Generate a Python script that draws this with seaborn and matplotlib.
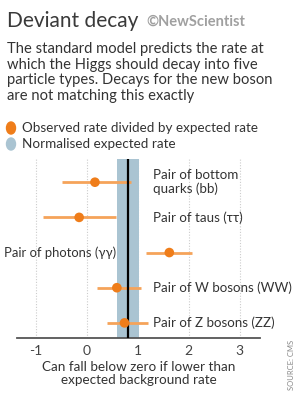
import matplotlib
matplotlib.use("Agg")
import matplotlib.pyplot as plt
import seaborn as sns
import pandas as pd
import numpy as np

# ---- data ----
categories = ["Pair of bottom\nquarks (bb)", "Pair of taus (ττ)", "Pair of photons (γγ)",
              "Pair of W bosons (WW)", "Pair of Z bosons (ZZ)"]
observed = [0.16, -0.15, 1.62, 0.59, 0.74]
err_low = [-0.48, -0.85, 1.16, 0.20, 0.39]
err_high = [0.86, 0.57, 2.06, 1.06, 1.20]
expected_value = 0.80
expected_band = [0.59, 1.02]
xticks = [-1, 0, 1, 2, 3]

title = "Deviant decay"
brand = "©NewScientist"
subtitle = ("The standard model predicts the rate at\nwhich the Higgs should decay into five\n"
            "particle types. Decays for the new boson\nare not matching this exactly")
legend_labels = ["Observed rate divided by expected rate", "Normalised expected rate"]
xlabel = "Can fall below zero if lower than\nexpected background rate"
source = "SOURCE: CMS"

df = pd.DataFrame({"cat": categories, "obs": observed, "lo": err_low, "hi": err_high,
                   "pos": np.arange(len(categories))})

ORANGE = "#ef7d1a"
ORANGE_L = "#f5a35a"
BLUE = "#aac4d2"
TXT = "#333333"

sns.set_style("white")
plt.rcParams["font.family"] = ["Lato", "DejaVu Sans"]

W, H = 299, 400
fig = plt.figure(figsize=(W / 100, H / 100), dpi=100)
fig.patch.set_facecolor("white")

def px(x, y):
    return x / W, 1 - y / H

ax = fig.add_axes([17 / W, 1 - 338 / H, 243 / W, (338 - 159) / H])
ax.set_xlim(-1.37, 3.4)
ax.set_ylim(4.43, -0.66)

for t in xticks:
    ax.axvline(t, color="#cccccc", lw=0.8, ls=(0, (1, 1.5)), zorder=0)
ax.axvspan(expected_band[0], expected_band[1], color=BLUE, zorder=1, lw=0)
ax.hlines(df["pos"], df["lo"], df["hi"], color=ORANGE_L, lw=2, zorder=2)
ax.axvline(expected_value, color="black", lw=1.6, zorder=3)
sns.scatterplot(data=df, x="obs", y="pos", color=ORANGE, s=48, edgecolor="none",
                zorder=4, ax=ax, legend=False)

for i, (c, o) in enumerate(zip(categories, observed)):
    if i == 2:
        ax.text(0.57, i, c, ha="right", va="center", fontsize=9.4, color=TXT,
                clip_on=False)
    else:
        ax.text(1.3, i, c, ha="left", va="center", fontsize=9.6, color=TXT,
                linespacing=1.15)

ax.set_xticks(xticks)
ax.set_xticklabels([str(t) for t in xticks], fontsize=10, color="#444444")
ax.tick_params(axis="x", length=0, pad=5)
ax.set_yticks([])
ax.set_xlabel(xlabel, fontsize=9.7, color=TXT, labelpad=3, linespacing=1.1)
ax.set_ylabel("")
for s in ["top", "right", "left"]:
    ax.spines[s].set_visible(False)
ax.spines["bottom"].set_color("#555555")
ax.spines["bottom"].set_linewidth(1.3)
ax.set_facecolor("none")

# header
fig.text(*px(7, 21), title, fontsize=15, color="#3a3a3a", fontweight="normal",
         va="center", ha="left")
fig.text(*px(146, 22), brand, fontsize=10.5, color="#a0a0a0", fontweight="bold",
         va="center", ha="left")
fig.text(*px(7, 42), subtitle, fontsize=10.6, color=TXT, va="top", ha="left",
         linespacing=1.15)

# legend
fig.patches.append(plt.Circle(px(11, 128), 4.5 / W, transform=fig.transFigure,
                              color=ORANGE, figure=fig))
fig.patches.append(plt.Circle(px(11, 144), 4.5 / W, transform=fig.transFigure,
                              color=BLUE, figure=fig))
fig.text(*px(22, 128), legend_labels[0], fontsize=9.7, color=TXT, va="center", ha="left")
fig.text(*px(22, 144), legend_labels[1], fontsize=9.7, color=TXT, va="center", ha="left")

fig.text(*px(291, 365), source, fontsize=5.5, color="#888888", rotation=90,
         va="center", ha="center")

fig.savefig("out.png", dpi=100)
